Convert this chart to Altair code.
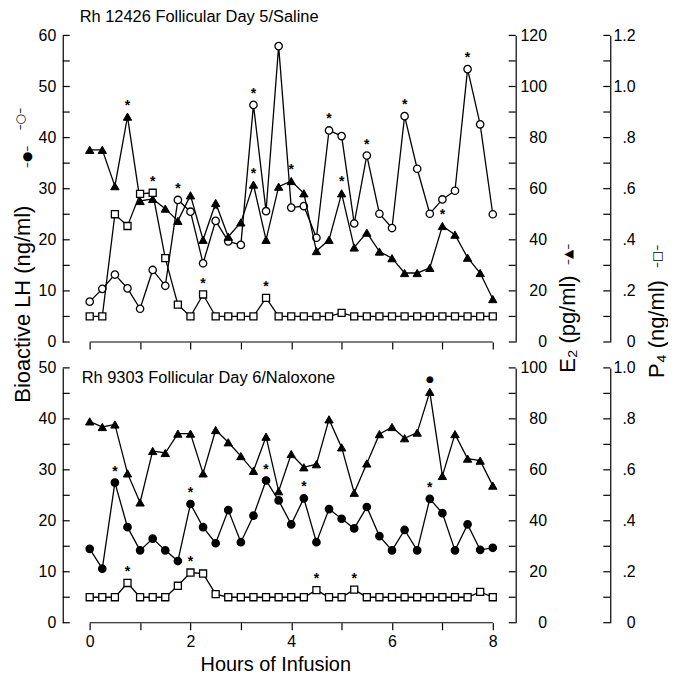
import altair as alt
import pandas as pd

FONT = "Liberation Sans"
SYM_FONT = "DejaVu Sans"

hours = [0, 0.25, 0.5, 0.75, 1, 1.25, 1.5, 1.75, 2, 2.25, 2.5, 2.75, 3, 3.25, 3.5, 3.75,
         4, 4.25, 4.5, 4.75, 5, 5.25, 5.5, 5.75, 6, 6.25, 6.5, 6.75, 7, 7.25, 7.5, 7.75, 8]
x_ticks = [0, 1, 2, 3, 4, 5, 6, 7, 8]

# Panel 1: Rh 12426 Follicular Day 5/Saline
top_lh = [7.9, 10.4, 13.2, 10.5, 6.5, 14.1, 11.0, 27.8, 25.5, 15.4, 23.7, 19.7, 19.0, 46.4, 25.6,
          57.9, 26.3, 26.6, 20.4, 41.4, 40.3, 23.2, 36.5, 25.1, 22.3, 44.2, 33.9, 25.1, 27.9, 29.6,
          53.4, 42.6, 25.0]
top_e2 = [75.2, 75.2, 61, 88.2, 55.2, 56, 52.2, 47.4, 57.4, 40, 54.4, 41.2, 46.8, 61.6, 40,
          60.8, 63, 58.2, 35.6, 40, 58.2, 37, 42.8, 35.4, 32.8, 27, 27, 29, 45.4, 42,
          33, 27, 16.8]
top_p4 = [0.1, 0.1, 0.5, 0.454, 0.58, 0.584, 0.328, 0.146, 0.1, 0.186, 0.1, 0.1, 0.1, 0.1, 0.173,
          0.1, 0.1, 0.1, 0.1, 0.1, 0.114, 0.1, 0.1, 0.1, 0.1, 0.1, 0.1, 0.1, 0.1, 0.1,
          0.1, 0.1, 0.1]
top_lh_stars = [7, 10, 13, 19, 22, 25, 30]
top_e2_stars = [3, 13, 16, 20, 28]
top_p4_stars = [5, 9, 14]

# Panel 2: Rh 9303 Follicular Day 6/Naloxone
bot_lh = [14.5, 10.6, 27.5, 18.75, 14.2, 16.5, 14.2, 12.1, 23.3, 18.75, 15.6, 22.1, 15.8, 21.0, 27.9,
          24.0, 19.3, 24.4, 15.8, 22.3, 20.4, 18.5, 22.7, 17.0, 14.2, 18.2, 14.2, 24.3, 21.5, 14.2,
          19.3, 14.3, 14.7]
bot_e2 = [79, 76.8, 77.8, 58.6, 47.2, 67.4, 66.6, 74.2, 74.2, 58.6, 75.6, 70.8, 65.4, 59.6, 73,
          51.6, 66.2, 61, 62.2, 79.8, 68.8, 51, 62.5, 74, 76.8, 72.4, 74.6, 90.6, 57.6, 74,
          64.4, 63.6, 53.8]
bot_p4 = [0.1, 0.1, 0.1, 0.156, 0.1, 0.1, 0.1, 0.145, 0.197, 0.193, 0.112, 0.1, 0.1, 0.1, 0.1,
          0.1, 0.1, 0.1, 0.128, 0.1, 0.1, 0.13, 0.1, 0.1, 0.1, 0.1, 0.1, 0.1, 0.1, 0.1,
          0.1, 0.121, 0.1]
bot_lh_stars = [2, 8, 14, 17, 27]
bot_e2_dots = [27]
bot_p4_stars = [3, 8, 18, 21]

W = 455
XS = alt.Scale(domain=[-0.535, 8.455], nice=False, zero=False)
P4_OFF = 95
LW = 1.3


def panel(lh, e2, p4, lh_filled, lh_max, height, lh_st, e2_st, p4_st, e2_mark, show_labels,
          title, title_xy, extra):
    df = pd.DataFrame({"t": hours, "lh": lh, "e2": e2, "p4": p4})
    xaxis = alt.Axis(values=x_ticks, domain=False, grid=False, ticks=True, tickSize=7,
                     tickColor="black", tickWidth=1.2, labels=show_labels,
                     labelExpr="datum.value % 2 == 0 ? datum.label : ''",
                     labelFontSize=16, labelPadding=4, labelFont=FONT, title=None)
    xenc = alt.X("t:Q", scale=XS, axis=xaxis)

    lh_scale = alt.Scale(domain=[0, lh_max], nice=False, zero=True)
    lh_axis = alt.Axis(orient="left", values=list(range(0, lh_max + 1, 10)), ticks=False,
                       tickSize=0, domainColor="black", domainWidth=1.2, labelFontSize=16,
                       labelPadding=7, labelFont=FONT, grid=False, title=None)
    e2_max = lh_max * 2
    e2_scale = alt.Scale(domain=[0, e2_max], nice=False, zero=True)
    e2_axis = alt.Axis(orient="right", values=list(range(0, e2_max + 1, 20)), ticks=False,
                       tickSize=0, domainColor="black", domainWidth=1.2, labelFontSize=16,
                       labelAlign="right", labelPadding=31, labelFont=FONT, grid=False,
                       title=None)
    p4_max = lh_max / 50
    p4_scale = alt.Scale(domain=[0, p4_max], nice=False, zero=True)
    p4_vals = [round(v * 0.2, 1) for v in range(0, int(round(p4_max / 0.2)) + 1)]
    p4_axis = alt.Axis(orient="right", offset=P4_OFF, values=p4_vals, ticks=False, tickSize=0,
                       domainColor="black", domainWidth=1.2, labelFontSize=16,
                       labelAlign="right", labelPadding=25, labelFont=FONT, grid=False,
                       title=None,
                       labelExpr="datum.value == 0 ? '0' : (datum.value >= 1 ? format(datum.value, '.1f') : replace(format(datum.value, '.1f'), '0.', '.'))")

    y_lh = alt.Y("lh:Q", scale=lh_scale, axis=lh_axis)
    y_lh_v = alt.Y("v:Q", scale=lh_scale, axis=lh_axis)
    y_e2 = alt.Y("e2:Q", scale=e2_scale, axis=e2_axis)
    y_p4 = alt.Y("p4:Q", scale=p4_scale, axis=p4_axis)

    base = alt.Chart(df)

    def line(y):
        return base.mark_line(color="black", strokeWidth=LW).encode(x=xenc, y=y)

    def stars(idx, y, ch="*", size=14, dy=-11, font=FONT):
        return alt.Chart(df.iloc[idx]).mark_text(
            text=ch, dy=dy, fontSize=size, fontWeight="bold", font=font, color="black"
        ).encode(x=xenc, y=y)

    lh_pts = base.mark_point(shape="circle", filled=True,
                             fill="black" if lh_filled else "white", stroke="black",
                             strokeWidth=LW, size=55, opacity=1).encode(x=xenc, y=y_lh)
    ticks_df = pd.DataFrame({"v": list(range(0, lh_max + 1, 5))})
    tick_layers = [
        alt.Chart(ticks_df).mark_rule(color="black", strokeWidth=1.2).encode(
            y=y_lh_v, x=alt.value(x0), x2=alt.value(x0 + 7))
        for x0 in (0, W - 7, W + P4_OFF - 7)
    ]
    span = pd.DataFrame({"t": [hours[0]], "t2": [hours[-1]]})
    xrule = alt.Chart(span).mark_rule(color="black", strokeWidth=1.2).encode(
        x=xenc, x2="t2:Q", y=alt.value(height))
    one = pd.DataFrame({"a": [0]})
    ttl = alt.Chart(one).mark_text(text=title, align="left", baseline="alphabetic",
                                   fontSize=16.5, font=FONT, color="black").encode(
        x=alt.value(title_xy[0]), y=alt.value(title_xy[1]))
    texts = [alt.Chart(one).mark_text(**kw).encode(x=alt.value(px), y=alt.value(py))
             for (px, py, kw) in extra]
    lh_group = alt.layer(line(y_lh), lh_pts, stars(lh_st, y_lh), *tick_layers, xrule, ttl,
                         *texts)

    e2_pts = base.mark_point(shape="triangle-up", filled=True, fill="black", stroke="black",
                             strokeWidth=1, size=70, opacity=1).encode(x=xenc, y=y_e2)
    if e2_mark == "*":
        e2_st_layer = stars(e2_st, y_e2)
    else:
        e2_st_layer = stars(e2_st, y_e2, ch="●", size=9, dy=-13, font=SYM_FONT)
    e2_group = alt.layer(line(y_e2), e2_pts, e2_st_layer)

    p4_pts = base.mark_point(shape="square", filled=True, fill="white", stroke="black",
                             strokeWidth=LW, size=50, opacity=1).encode(x=xenc, y=y_p4)
    p4_group = alt.layer(line(y_p4), p4_pts, stars(p4_st, y_p4))

    return alt.layer(lh_group, e2_group, p4_group).resolve_scale(y="independent").properties(
        width=W, height=height)


TOP_H = 308
BOT_H = 256

title_kw = dict(angle=270, align="center", baseline="middle", color="black")
extra_top = [
    (-40, 270, dict(text="Bioactive LH (ng/ml)", fontSize=22, font=FONT, **title_kw)),
    (-36, 122, dict(text="–●–", fontSize=12, font=SYM_FONT, **title_kw)),
    (-43, 84, dict(text="–○–", fontSize=12, font=SYM_FONT, **title_kw)),
    (508, 290, dict(text="E₂ (pg/ml)", fontSize=22, font=FONT, **title_kw)),
    (508, 220, dict(text="–▲–", fontSize=12, font=SYM_FONT, **title_kw)),
    (597, 295, dict(text="P₄ (ng/ml)", fontSize=22, font=FONT, **title_kw)),
    (597, 222, dict(text="–□–", fontSize=12, font=SYM_FONT, **title_kw)),
    (214, 632, dict(text="Hours of Infusion", fontSize=20, align="center", baseline="middle",
                    font=FONT, color="black")),
]

top = panel(top_lh, top_e2, top_p4, False, 60, TOP_H, top_lh_stars, top_e2_stars, top_p4_stars,
            "*", False, "Rh 12426 Follicular Day 5/Saline", (17, -13), extra_top)
bottom = panel(bot_lh, bot_e2, bot_p4, True, 50, BOT_H, bot_lh_stars, bot_e2_dots, bot_p4_stars,
               "dot", True, "Rh 9303 Follicular Day 6/Naloxone", (19, 15), [])

chart = alt.vconcat(top, bottom, spacing=26, bounds="flush").properties(
    padding={"left": 4, "top": 0, "right": 0, "bottom": 0}
).configure_view(stroke=None).configure_axis(
    grid=False, labelColor="black", domainColor="black"
)

chart.save("out.html", embed_options={"renderer": "svg", "actions": False})
